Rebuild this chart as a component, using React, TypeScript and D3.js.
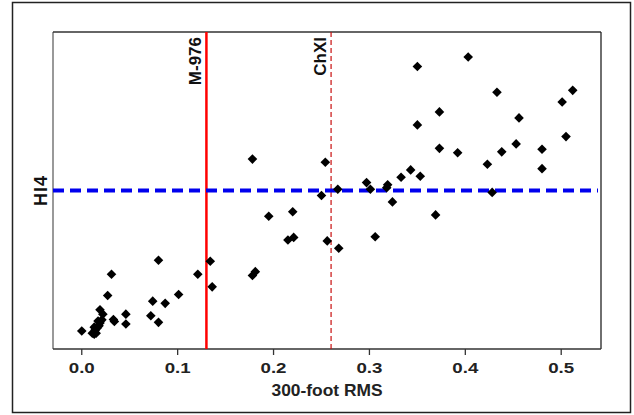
import React from "react";
import * as d3 from "d3";

const rms = [
  0.350, 0.403, 0.433, 0.373, 0.350, 0.512, 0.501, 0.456, 0.505, 0.453,
  0.373, 0.392, 0.438, 0.480, 0.254, 0.423, 0.480, 0.343, 0.353, 0.333,
  0.297, 0.301, 0.319, 0.318, 0.267, 0.250, 0.428, 0.324, 0.369, 0.306,
  0.256, 0.268, 0.178, 0.195, 0.220, 0.215, 0.221, 0.178, 0.181, 0.080,
  0.134, 0.121, 0.136, 0.101, 0.031, 0.027, 0.074, 0.087, 0.072, 0.080,
  0.000, 0.046, 0.046, 0.033, 0.034, 0.019, 0.022, 0.011, 0.013, 0.015,
  0.014, 0.016, 0.018, 0.019, 0.021, 0.017, 0.013,
];
const hi4 = [
  89.1, 92.1, 81.0, 74.8, 70.7, 81.6, 77.9, 72.9, 67.0, 64.7,
  63.3, 61.9, 62.2, 63.0, 58.9, 58.3, 56.9, 56.5, 54.5, 54.2,
  52.5, 50.4, 51.8, 50.9, 50.4, 48.4, 49.4, 46.4, 42.3, 35.4,
  34.1, 31.8, 59.9, 41.9, 43.3, 34.4, 35.2, 23.2, 24.4, 28.0,
  27.7, 23.6, 19.6, 17.2, 23.6, 16.9, 15.1, 14.4, 10.5, 8.4,
  5.7, 11.0, 7.9, 9.3, 8.7, 12.4, 11.0, 5.0, 4.7, 5.0,
  6.0, 6.6, 7.3, 8.2, 9.2, 8.8, 6.9,
];
const xTicks = [0.0, 0.1, 0.2, 0.3, 0.4, 0.5];
const hi4Threshold = 50;
const refLines = [
  { label: "M-976", value: 0.13 },
  { label: "ChXI", value: 0.26 },
];

const W = 634;
const H = 415;
const left = 53, right = 601, top = 32, bottom = 349;
const font = "'Liberation Sans', Arial, sans-serif";

export default function App() {
  const x = d3.scaleLinear().domain([-0.03, 0.5415]).range([left, right]);
  const y = d3.scaleLinear().domain([0, 100]).range([bottom, top]);
  const r = 4.8;
  const diamond = (cx: number, cy: number) =>
    `M${cx},${cy - r}L${cx + r},${cy}L${cx},${cy + r}L${cx - r},${cy}Z`;

  return (
    <svg
      width={W}
      height={H}
      style={{ position: "absolute", left: 0, top: 0, background: "#fff" }}
    >
      <rect x={12.5} y={2.5} width={618} height={410} fill="#fff" stroke="#222" strokeWidth={1.5} />
      {/* plot box */}
      <line x1={left} x2={left} y1={top} y2={bottom} stroke="#777" strokeWidth={1.5} />
      <line x1={left} x2={right} y1={top} y2={top} stroke="#333" strokeWidth={1.3} />
      <line x1={right} x2={right} y1={top} y2={bottom} stroke="#222" strokeWidth={1.3} />
      <line x1={left} x2={right} y1={bottom} y2={bottom} stroke="#333" strokeWidth={1.3} />
      {xTicks.map((t) => (
        <g key={t}>
          <line x1={x(t)} x2={x(t)} y1={bottom} y2={bottom + 6} stroke="#333" strokeWidth={1.3} />
          <text
            x={x(t)}
            y={372.5}
            textAnchor="middle"
            fontFamily={font}
            fontWeight="bold"
            fontSize={15.5}
            textLength={26}
            lengthAdjust="spacingAndGlyphs"
            fill="#222"
          >
            {t.toFixed(1)}
          </text>
        </g>
      ))}
      <text
        x={(left + right) / 2}
        y={395.5}
        textAnchor="middle"
        fontFamily={font}
        fontWeight="bold"
        fontSize={16.5}
        textLength={111}
        lengthAdjust="spacingAndGlyphs"
        fill="#222"
      >
        300-foot RMS
      </text>
      <text
        transform={`translate(46.5,${(top + bottom) / 2}) rotate(-90)`}
        textAnchor="middle"
        fontFamily={font}
        fontWeight="bold"
        fontSize={18}
        letterSpacing={1}
        fill="#111"
      >
        HI4
      </text>
      {/* reference lines */}
      <line
        x1={x(refLines[0].value)}
        x2={x(refLines[0].value)}
        y1={top}
        y2={bottom}
        stroke="#ff0000"
        strokeWidth={2.5}
      />
      <line
        x1={x(refLines[1].value)}
        x2={x(refLines[1].value)}
        y1={top}
        y2={bottom}
        stroke="#c81010"
        strokeWidth={1.2}
        strokeDasharray="5,3"
      />
      {refLines.map((l) => (
        <text
          key={l.label}
          transform={`translate(${x(l.value) - 5},${top + 5}) rotate(-90)`}
          textAnchor="end"
          fontFamily={font}
          fontWeight="bold"
          fontSize={17}
          fill="#111"
        >
          {l.label}
        </text>
      ))}
      <line
        x1={left}
        x2={right - 3}
        y1={y(hi4Threshold)}
        y2={y(hi4Threshold)}
        stroke="#0000ee"
        strokeWidth={4}
        strokeDasharray="11,6"
      />
      {rms.map((v, i) => (
        <path key={i} d={diamond(x(v), y(hi4[i]))} fill="#000" />
      ))}
    </svg>
  );
}
